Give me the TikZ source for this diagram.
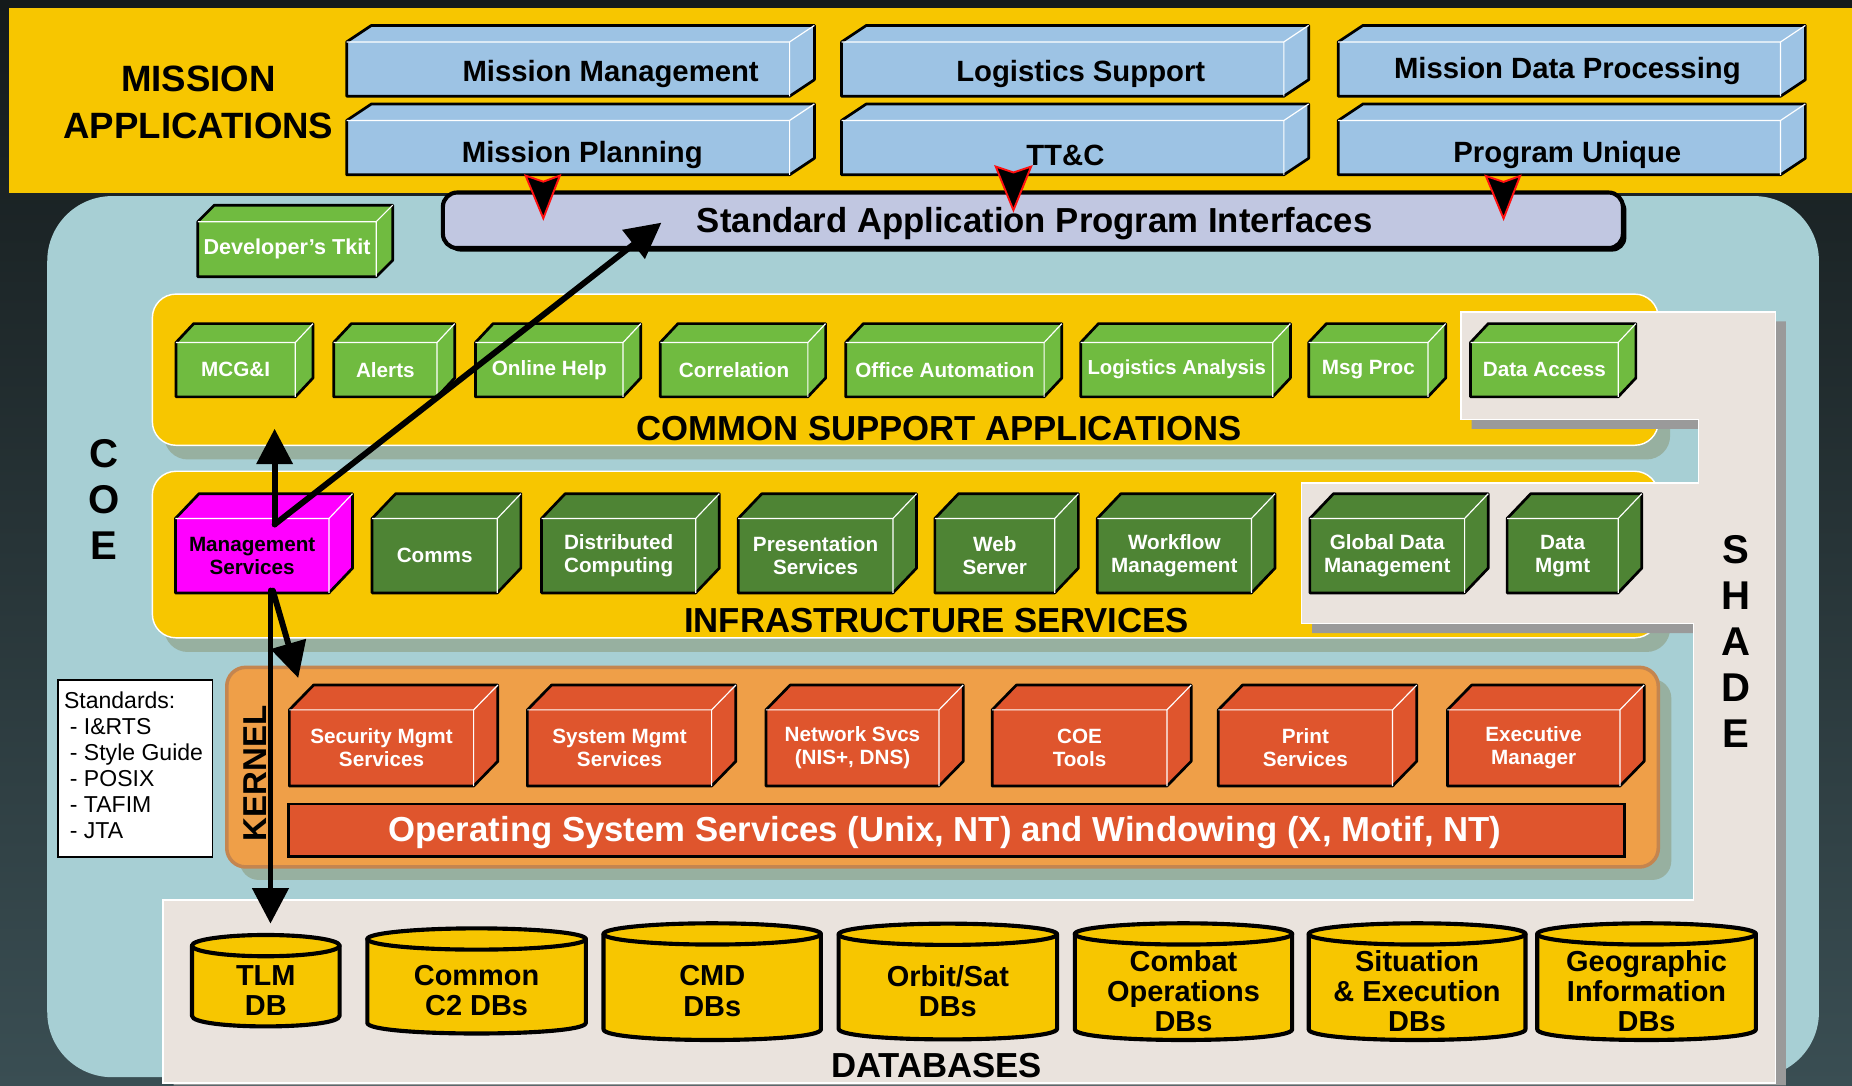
\documentclass[tikz,border=0pt]{standalone}
\usepackage{fontspec}
\setmainfont{Liberation Sans}
\usetikzlibrary{arrows.meta}
\newcommand\myfs[2]{\fontsize{#1}{#2}\selectfont}
\definecolor{bgtop}{HTML}{141A1B}
\definecolor{bgbot}{HTML}{3A4E53}
\definecolor{myyellow}{HTML}{F7C600}
\definecolor{coeblue}{HTML}{A7CFD4}
\definecolor{boxblue}{HTML}{9DC3E4}
\definecolor{apicol}{HTML}{C1C7E1}
\definecolor{lgreen}{HTML}{70BB40}
\definecolor{dgreen}{HTML}{4E8434}
\definecolor{magbox}{HTML}{FF00FF}
\definecolor{kerorange}{HTML}{EF9F48}
\definecolor{kerborder}{HTML}{C4854F}
\definecolor{redbox}{HTML}{DF552D}
\definecolor{beige}{HTML}{EAE3DD}
\definecolor{shadegray}{HTML}{9A9A9A}
\definecolor{panelshadow}{HTML}{97B0A0}
\definecolor{tipred}{HTML}{FF1010}

\tikzset{
  curface/.style={},
  cubeface/.style={inner sep=0pt, outer sep=0pt, align=center, text=white, font=\bfseries\myfs{17.5}{19.5}},
  cubeline/.style={draw=black, line width=2.3pt, line join=round},
  cubelight/.style={draw=white, line width=1pt},
  bluelabel/.style={inner sep=0pt, font=\bfseries\myfs{24.8}{28}, text=black},
  panellabel/.style={inner sep=0pt, font=\bfseries\myfs{29.4}{32}, text=black},
  dbbody/.style={inner sep=0pt, outer sep=0pt},
  dbline/.style={draw=black, fill=myyellow, line width=3.5pt, line join=round},
  dbtext/.style={inner sep=0pt, align=center, font=\bfseries\myfs{24.5}{25.5}, text=black},
  bigarrow/.style={draw=black, line width=5pt, line cap=round, -{Triangle[length=30pt,width=30pt]}},
  redtip/.style={fill=black, draw=tipred, line width=1.6pt, line join=miter},
  bigletter/.style={inner sep=0pt, align=center, font=\bfseries\myfs{34}{39}, text=black},
}

\newcommand\cubebox[9]{%
  \node[cubeface, curface, fill=#8, minimum width={#4-#2}, minimum height={#5-#3}] (#1) at ({(#2+#4)/2},{(#3+#5)/2}) {#9};
  \fill[#8] (#1.north west) -- ++(#6,-#7) -- ++({#4-#2},0) -- ++(0,{#5-#3}) -- (#1.south east) -- (#1.north east) -- cycle;
  \draw[cubeline] (#1.north west) -- ++(#6,-#7) -- ++({#4-#2},0) -- ++(0,{#5-#3}) -- (#1.south east) -- (#1.south west) -- cycle;
  \draw[cubelight] (#1.north west) -- (#1.north east) -- (#1.south east) (#1.north east) -- ++(#6,-#7);
}

\newcommand\dbcyl[6]{%
  \node[dbbody, minimum width={#4-#2}, minimum height={#5-#3}] (#1) at ({(#2+#4)/2},{(#3+#5)/2}) {};
  \filldraw[dbline] (#2,#3+9) -- (#2,#5-9) .. controls (#2,#5+3) and (#4,#5+3) .. (#4,#5-9) -- (#4,#3+9) -- cycle;
  \filldraw[dbline] ({(#2+#4)/2},#3+9) ellipse [x radius={(#4-#2)/2}, y radius=9];
  \node[dbtext] (#1-t) at ({(#2+#4)/2},{(#3+#5)/2+8}) {#6};
}

\begin{document}
\begin{tikzpicture}[x=1pt,y=-1pt]
\useasboundingbox (0,0) rectangle (1568,919);
\shade[top color=bgtop, bottom color=bgbot] (0,0) rectangle (1568,919);

% mission applications band
\fill[myyellow] (8,7) rectangle (1568,163);
% COE region
\fill[coeblue, rounded corners=55pt] (40,166) rectangle (1540,912);

\node[inner sep=0pt, align=center, font=\bfseries\myfs{31}{40}] (mission) at (168,87) {MISSION\\APPLICATIONS};

% API bar
\fill[black, rounded corners=12pt] (378,166) rectangle (1377,213);
\node[fill=apicol, draw=black, line width=3.5pt, rounded corners=12pt, minimum width=999, minimum height=47, inner sep=0pt] (api) at (874.5,186.5) {};
\node[inner sep=0pt, font=\bfseries\myfs{29.4}{32}] (api-t) at (876,189) {Standard Application Program Interfaces};

% mission boxes
\cubebox{mm}{293.5}{35.5}{668.5}{81.5}{21}{14}{boxblue}{}
\cubebox{ls}{712.5}{35.5}{1087}{81.5}{21}{14}{boxblue}{}
\cubebox{mdp}{1133}{35.5}{1507.5}{81.5}{21}{14}{boxblue}{}
\cubebox{mp}{293.5}{102}{668.5}{148}{21}{14}{boxblue}{}
\cubebox{ttc}{712.5}{102}{1087}{148}{21}{14}{boxblue}{}
\cubebox{pu}{1133}{102}{1507.5}{148}{21}{14}{boxblue}{}
\node[bluelabel] (mm-t) at (517,63) {Mission Management};
\node[bluelabel] (ls-t) at (915,63) {Logistics Support};
\node[bluelabel] (mdp-t) at (1327,60) {Mission Data Processing};
\node[bluelabel] (mp-t) at (493,131) {Mission Planning};
\node[bluelabel] (ttc-t) at (902,132) {TT\&C};
\node[bluelabel] (pu-t) at (1327,131) {Program Unique};

% red arrow tips into API
\filldraw[redtip] (445,148.7) -- (460,153.8) -- (474,148.7) -- (460,184.8) -- cycle;
\filldraw[redtip] (843,141) -- (858,146) -- (873,141) -- (858,178) -- cycle;
\filldraw[redtip] (1258,149) -- (1273,154) -- (1287,149) -- (1273,185) -- cycle;

% developer's toolkit
\cubebox{dev}{167.5}{187.7}{318.5}{234.3}{14}{14}{lgreen}{{\myfs{18.3}{20}Developer’s Tkit}}

% panels shadows and panels
\fill[panelshadow, rounded corners=20pt] (139,261) rectangle (1414,389);
\node[fill=myyellow, draw=white, line width=1.2pt, rounded corners=20pt, minimum width=1275, minimum height=128, inner sep=0pt] (csa) at (766.5,313) {};
\fill[panelshadow, rounded corners=20pt] (139,411) rectangle (1414,552);
\node[fill=myyellow, draw=white, line width=1.2pt, rounded corners=20pt, minimum width=1275, minimum height=141, inner sep=0pt] (is) at (766.5,469.5) {};
\fill[panelshadow, rounded corners=16pt] (203,575) rectangle (1415,745);
\node[fill=kerorange, draw=kerborder, line width=3pt, rounded corners=16pt, minimum width=1212, minimum height=169, inner sep=0pt] (ker) at (798,649.5) {};

% SHADE region
\fill[shadegray] (1246,272) -- (1512,272) -- (1512,919) -- (147,919) -- (147,770) -- (1443,770) -- (1443,536) -- (1111,536) -- (1111,417) -- (1447,417) -- (1447,363) -- (1246,363) -- cycle;
\filldraw[fill=beige, draw=white, line width=1.2pt] (1237,264) -- (1503,264) -- (1503,917) -- (138,917) -- (138,762) -- (1434,762) -- (1434,528) -- (1102,528) -- (1102,409) -- (1438,409) -- (1438,355) -- (1237,355) -- cycle;

\node[panellabel] (csa-t) at (795,363) {COMMON SUPPORT APPLICATIONS};
\node[panellabel] (is-t) at (793,525) {INFRASTRUCTURE SERVICES};
\node[panellabel, font=\bfseries\myfs{28}{32}, rotate=90] (ker-t) at (216,655) {KERNEL};
\node[panellabel] (db-t) at (793,902) {DATABASES};
\node[bigletter] (coe) at (88,423) {C\\O\\E};
\node[bigletter] (shade) at (1470,543) {S\\H\\A\\D\\E};

% common support applications boxes
\cubebox{mcg}{149}{290}{250}{336}{15}{16}{lgreen}{MCG\&I}
\cubebox{alerts}{282.5}{290}{370}{336}{15}{16}{lgreen}{Alerts}
\cubebox{help}{402.5}{290}{527.5}{336}{15}{16}{lgreen}{Online Help}
\cubebox{corr}{559}{290}{684}{336}{15}{16}{lgreen}{Correlation}
\cubebox{office}{716}{290}{884}{336}{15}{16}{lgreen}{Office Automation}
\cubebox{logan}{915}{290}{1077.5}{336}{15}{16}{lgreen}{{\myfs{17.2}{19}Logistics Analysis}}
\cubebox{msg}{1108}{290}{1209}{336}{15}{16}{lgreen}{Msg Proc}
\cubebox{dacc}{1245}{290}{1370}{336}{15}{16}{lgreen}{Data Access}

% infrastructure services boxes
\begin{scope}[curface/.style={text=black}]
\cubebox{ms}{148.5}{439}{278.5}{502}{20}{21}{magbox}{Management\\Services}
\end{scope}
\cubebox{comms}{315}{439}{421}{502}{20}{21}{dgreen}{Comms}
\cubebox{dist}{458.5}{439}{589}{502}{20}{21}{dgreen}{Distributed\\Computing}
\cubebox{pres}{625}{439}{756}{502}{20}{21}{dgreen}{Presentation\\Services}
\cubebox{web}{791.5}{439}{893}{502}{20}{21}{dgreen}{Web\\Server}
\cubebox{wf}{929}{439}{1059.5}{502}{20}{21}{dgreen}{Workflow\\Management}
\cubebox{gdm}{1109}{439}{1240}{502}{20}{21}{dgreen}{Global Data\\Management}
\cubebox{dm}{1276}{439}{1370}{502}{20}{21}{dgreen}{Data\\Mgmt}

% kernel boxes
\cubebox{sec}{245}{601}{401}{665.5}{20.5}{21}{redbox}{Security Mgmt\\Services}
\cubebox{sys}{446.5}{601}{602.5}{665.5}{20.5}{21}{redbox}{System Mgmt\\Services}
\cubebox{net}{648.5}{601}{795}{665.5}{20.5}{21}{redbox}{Network Svcs\\(NIS+, DNS)}
\cubebox{coet}{840}{601}{988}{665.5}{20.5}{21}{redbox}{COE\\Tools}
\cubebox{print}{1031.5}{601}{1179}{665.5}{20.5}{21}{redbox}{Print\\Services}
\cubebox{exec}{1225.5}{601}{1371.5}{665.5}{20.5}{21}{redbox}{Executive\\Manager}
\node[fill=redbox, draw=black, line width=2.5pt, minimum width=1131, minimum height=44.6, inner sep=0pt] (os) at (809.5,703) {};
\node[inner sep=0pt, text=white, font=\bfseries\myfs{29.4}{32}] (os-t) at (800,705) {Operating System Services (Unix, NT) and Windowing (X, Motif, NT)};

% standards box
\node[fill=white, draw=black, line width=1.5pt, minimum width=131, minimum height=149.6, inner sep=0pt] (stdbox) at (114.5,650.5) {};
\node[anchor=west, inner sep=0pt, align=left, font=\myfs{19.5}{22}] (stdtext) at (54,648) {Standards:\\\hspace{5pt}- I\&RTS\\\hspace{5pt}- Style Guide\\\hspace{5pt}- POSIX\\\hspace{5pt}- TAFIM\\\hspace{5pt}- JTA};

% databases
\dbcyl{tlm}{162.5}{791.6}{287.5}{869}{TLM\\DB}
\dbcyl{c2}{311}{786}{496}{875}{Common\\C2 DBs}
\dbcyl{cmd}{511}{781.7}{695}{880.5}{CMD\\DBs}
\dbcyl{orbit}{710}{782}{895}{880}{Orbit/Sat\\DBs}
\dbcyl{combat}{910}{781.7}{1094}{880.5}{Combat\\Operations\\DBs}
\dbcyl{sit}{1108}{781.7}{1291.5}{880.5}{Situation\\\& Execution\\DBs}
\dbcyl{geo}{1301.5}{781.7}{1486.6}{880.5}{Geographic\\Information\\DBs}

% arrows from management services
\coordinate (msA) at (232.5,444);
\coordinate (csaB) at (232.5,363);
\coordinate (apiT) at (560,188.5);
\coordinate (msB) at (229,500);
\coordinate (tlmT) at (229,782);
\coordinate (msC) at (231,500);
\coordinate (kerT) at (252.5,574);
\draw[bigarrow] (msA) -- (csaB);
\draw[bigarrow] (msA) -- (apiT);
\draw[bigarrow] (msB) -- (tlmT);
\draw[bigarrow] (msC) -- (kerT);
\end{tikzpicture}
\end{document}
